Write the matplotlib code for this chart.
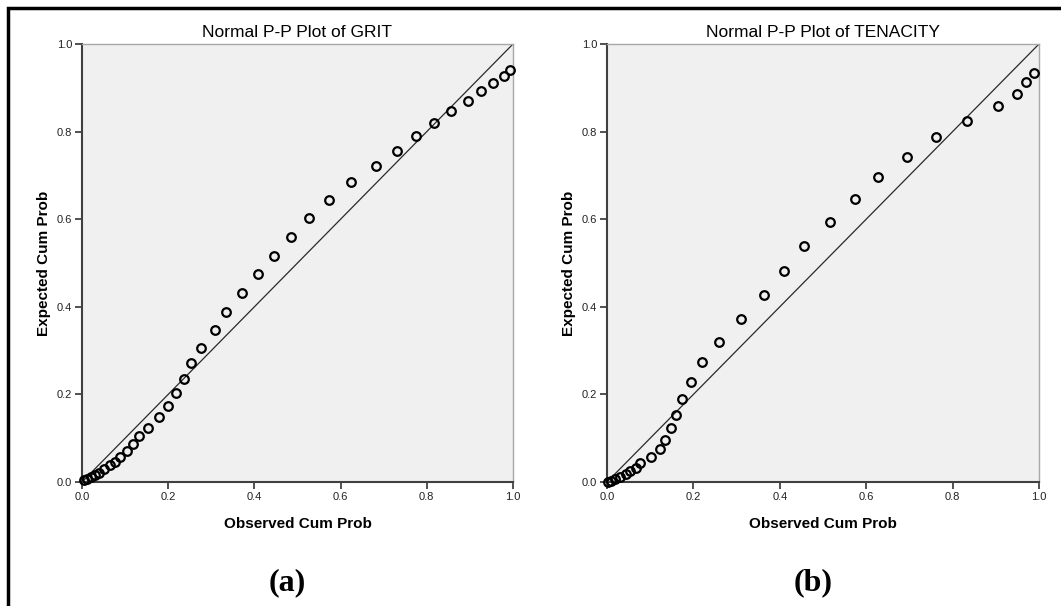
import matplotlib

matplotlib.use("Agg")
import matplotlib.pyplot as plt
from matplotlib.patches import Rectangle

# Observed vs expected cumulative probabilities
grit_obs = [0.005, 0.012, 0.020, 0.030, 0.040, 0.051, 0.065, 0.077, 0.089, 0.104,
            0.118, 0.132, 0.152, 0.179, 0.199, 0.218, 0.237, 0.253, 0.277, 0.309,
            0.334, 0.372, 0.409, 0.445, 0.485, 0.527, 0.574, 0.623, 0.681, 0.732,
            0.774, 0.817, 0.857, 0.896, 0.926, 0.953, 0.979, 0.993]
grit_exp = [0.005, 0.007, 0.011, 0.016, 0.021, 0.029, 0.038, 0.046, 0.058, 0.071,
            0.087, 0.105, 0.124, 0.148, 0.174, 0.203, 0.236, 0.271, 0.307, 0.347,
            0.389, 0.431, 0.474, 0.517, 0.559, 0.603, 0.644, 0.684, 0.721, 0.756,
            0.790, 0.819, 0.847, 0.871, 0.893, 0.912, 0.927, 0.941]

ten_obs = [0.003, 0.009, 0.019, 0.030, 0.043, 0.053, 0.066, 0.077, 0.101, 0.123,
           0.134, 0.147, 0.160, 0.174, 0.194, 0.219, 0.260, 0.310, 0.364, 0.409,
           0.456, 0.517, 0.573, 0.628, 0.695, 0.762, 0.834, 0.904, 0.950, 0.971,
           0.988]
ten_exp = [0.001, 0.003, 0.006, 0.011, 0.018, 0.024, 0.033, 0.043, 0.058, 0.075,
           0.096, 0.123, 0.153, 0.189, 0.228, 0.273, 0.320, 0.373, 0.428, 0.482,
           0.539, 0.593, 0.646, 0.697, 0.743, 0.787, 0.825, 0.858, 0.886, 0.914,
           0.933]

titles = ["Normal P-P Plot of GRIT", "Normal P-P Plot of TENACITY"]
panel_tags = ["(a)", "(b)"]
ticks = [0.0, 0.2, 0.4, 0.6, 0.8, 1.0]
tick_labels = ["0.0", "0.2", "0.4", "0.6", "0.8", "1.0"]

W, H = 1061, 606
fig = plt.figure(figsize=(W / 100, H / 100), dpi=100)

# outer frame (only top and left edges fall inside the image)
fig.add_artist(Rectangle((8 / W, -0.1), 1.2, 1.1 - 8 / H, transform=fig.transFigure,
                         fill=False, lw=2.5, ec="black"))

boxes = [(82, 431), (607, 432)]
series = [(grit_obs, grit_exp), (ten_obs, ten_exp)]
sans = ["Liberation Sans", "DejaVu Sans"]

for (x0, w), (obs, exp), title, tag in zip(boxes, series, titles, panel_tags):
    ax = fig.add_axes([x0 / W, 1 - 482 / H, w / W, 438 / H])
    ax.set_facecolor("#f0f0f0")
    ax.plot([0, 1], [0, 1], color="#2a2a2a", lw=0.9, zorder=2)
    ax.plot(obs, exp, "o", mfc="none", mec="black", ms=6.2, mew=1.6, zorder=3,
            clip_on=False)
    ax.set_xlim(0, 1)
    ax.set_ylim(0, 1)
    ax.set_xticks(ticks, tick_labels)
    ax.set_yticks(ticks, tick_labels)
    ax.tick_params(direction="out", length=5, width=1.2, color="#333333",
                   labelsize=8, labelcolor="#222222", pad=2)
    for lab in ax.get_xticklabels() + ax.get_yticklabels():
        lab.set_family(sans)
    for side in ["left", "bottom"]:
        ax.spines[side].set_color("#404040")
        ax.spines[side].set_linewidth(1.5)
    for side in ["top", "right"]:
        ax.spines[side].set_color("#a8a8a8")
        ax.spines[side].set_linewidth(1.0)
    ax.set_title(title, family=sans, fontsize=12.5, pad=5)
    ax.set_xlabel("Observed Cum Prob", family=sans, fontsize=11, fontweight="bold",
                  labelpad=11)
    ax.set_ylabel("Expected Cum Prob", family=sans, fontsize=11, fontweight="bold",
                  labelpad=4)
    fig.text((x0 + w / 2 - 10) / W, 1 - 583 / H, tag, family=["Liberation Serif"],
             fontsize=23, fontweight="bold", ha="center", va="center")

fig.savefig("out.png", dpi=100)
